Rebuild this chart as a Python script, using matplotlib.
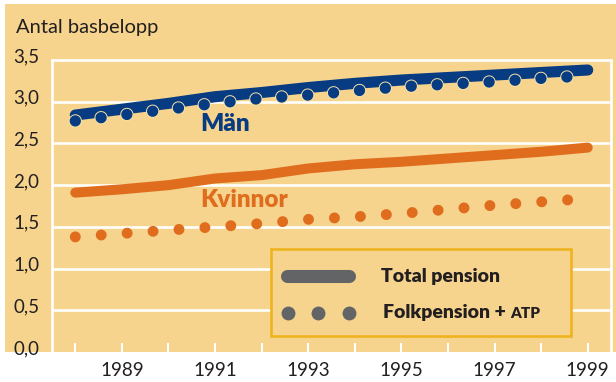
import matplotlib
matplotlib.use("Agg")
import matplotlib.pyplot as plt
from matplotlib.patches import Rectangle
from matplotlib.lines import Line2D
from matplotlib.transforms import ScaledTranslation

plt.rcParams["font.family"] = ["Lato", "DejaVu Sans"]
plt.rcParams["lines.scale_dashes"] = False

# Data: pension level in number of base amounts (basbelopp)
years = [1988, 1989, 1990, 1991, 1992, 1993, 1994, 1995, 1996, 1997, 1998, 1999]
men_total = [2.84, 2.91, 2.98, 3.06, 3.11, 3.17, 3.22, 3.26, 3.29, 3.32, 3.35, 3.38]
men_fp_atp = [2.77, 2.84, 2.91, 2.98, 3.04, 3.08, 3.13, 3.18, 3.21, 3.24, 3.28, 3.31]
women_total = [1.91, 1.95, 2.00, 2.08, 2.12, 2.20, 2.25, 2.28, 2.32, 2.36, 2.40, 2.45]
women_fp_atp = [1.38, 1.42, 1.46, 1.50, 1.54, 1.59, 1.62, 1.66, 1.71, 1.76, 1.80, 1.84]

y_ticks = [0.0, 0.5, 1.0, 1.5, 2.0, 2.5, 3.0, 3.5]
y_ticklabels = ["0,0", "0,5", "1,0", "1,5", "2,0", "2,5", "3,0", "3,5"]
x_ticklabels = [str(y) if y % 2 == 1 else "" for y in years]

PEACH = "#F6D48D"
BLUE = "#073B82"
ORANGE = "#E06D1E"
GREY = "#636466"
GOLD = "#EEB420"
CREAM = "#F6E2A8"
INK = "#231F20"

W, H = 616, 382
fig = plt.figure(figsize=(W / 100, H / 100), dpi=100, facecolor="white")

# peach panel behind the plot
fig.patches.append(Rectangle((5 / W, 30 / H), 611 / W, 348 / H,
                             transform=fig.transFigure, facecolor=PEACH,
                             edgecolor="none", zorder=-10))

ax = fig.add_axes([52 / W, 30 / H, 559 / W, 292 / H])
ax.set_zorder(1)
ax.set_facecolor(PEACH)
ax.set_xlim(1987.5, 1999.5)
ax.set_ylim(0, 3.5)

# white grid and frame
for v in y_ticks[1:-1]:
    ax.axhline(v, color="white", lw=1.9, zorder=1)
for side in ("left", "right", "top"):
    ax.spines[side].set_color("white")
    ax.spines[side].set_linewidth(1.9)
ax.spines["bottom"].set_visible(False)

ax.set_yticks(y_ticks)
ax.set_yticklabels(y_ticklabels)
ax.set_xticks(years)
ax.set_xticklabels(x_ticklabels)
ax.tick_params(axis="y", length=0, pad=9, labelsize=13.5, labelcolor=INK)
ax.tick_params(axis="x", direction="in", length=6.5, width=1.5, color="white",
               pad=7, labelsize=13.5, labelcolor=INK)
shift = ScaledTranslation(0, 5 / 100, fig.dpi_scale_trans)
for lab in ax.get_yticklabels():
    lab.set_transform(lab.get_transform() + shift)

dot_gap = 18.7  # points between dot centres

# total pension lines
ax.plot(years, men_total, color=BLUE, lw=8.0, solid_capstyle="round",
        solid_joinstyle="round", zorder=3)
ax.plot(years, women_total, color=ORANGE, lw=7.2, solid_capstyle="round",
        solid_joinstyle="round", zorder=3)

# folkpension + ATP dotted lines
ax.plot(years, men_fp_atp, color=CREAM, lw=9.6, linestyle=(0, (0.01, dot_gap)),
        dash_capstyle="round", zorder=4)
ax.plot(years, men_fp_atp, color=BLUE, lw=8.2, linestyle=(0, (0.01, dot_gap)),
        dash_capstyle="round", zorder=5)
ax.plot(years, women_fp_atp, color=ORANGE, lw=7.9, linestyle=(0, (0.01, dot_gap)),
        dash_capstyle="round", zorder=4)

ax.text(1990.69, 2.73, "Män", color=BLUE, fontsize=17.5, fontweight="heavy",
        ha="left", va="center", zorder=6)
ax.text(1990.69, 1.82, "Kvinnor", color=ORANGE, fontsize=17.5, fontweight="heavy",
        ha="left", va="center", zorder=6)

# legend box
ax.add_patch(Rectangle((0.392, 0.0565), 0.536, 0.2975, transform=ax.transAxes,
                       facecolor=PEACH, edgecolor=GOLD, lw=1.9, zorder=7))
ax.add_line(Line2D([0.421, 0.532], [0.260, 0.260], transform=ax.transAxes,
                   color=GREY, lw=9.4, solid_capstyle="round", zorder=8))
ax.add_line(Line2D([0.4227, 0.4764, 0.5313], [0.1325] * 3, transform=ax.transAxes,
                   linestyle="none", marker="o", markersize=10, color=GREY,
                   markeredgewidth=0, zorder=8))
ax.text(0.588, 0.260, "Total pension", transform=ax.transAxes, color=INK,
        fontsize=14, fontweight="heavy", ha="left", va="center", zorder=8)
base_y = 0.1325 - 0.0165
t2 = ax.text(0.592, base_y, "Folkpension + ", transform=ax.transAxes, color=INK,
             fontsize=14, fontweight="heavy", ha="left", va="baseline", zorder=8)
ax.annotate("ATP", xy=(1, base_y), xycoords=(t2, ax.transAxes),
            color=INK, fontsize=11, fontweight="heavy", ha="left", va="baseline",
            zorder=8)

fig.text(16 / W, 1 - 33 / H, "Antal basbelopp", color=INK, fontsize=14.5,
         ha="left", va="baseline")

fig.savefig("out.png", dpi=100, facecolor="white")
